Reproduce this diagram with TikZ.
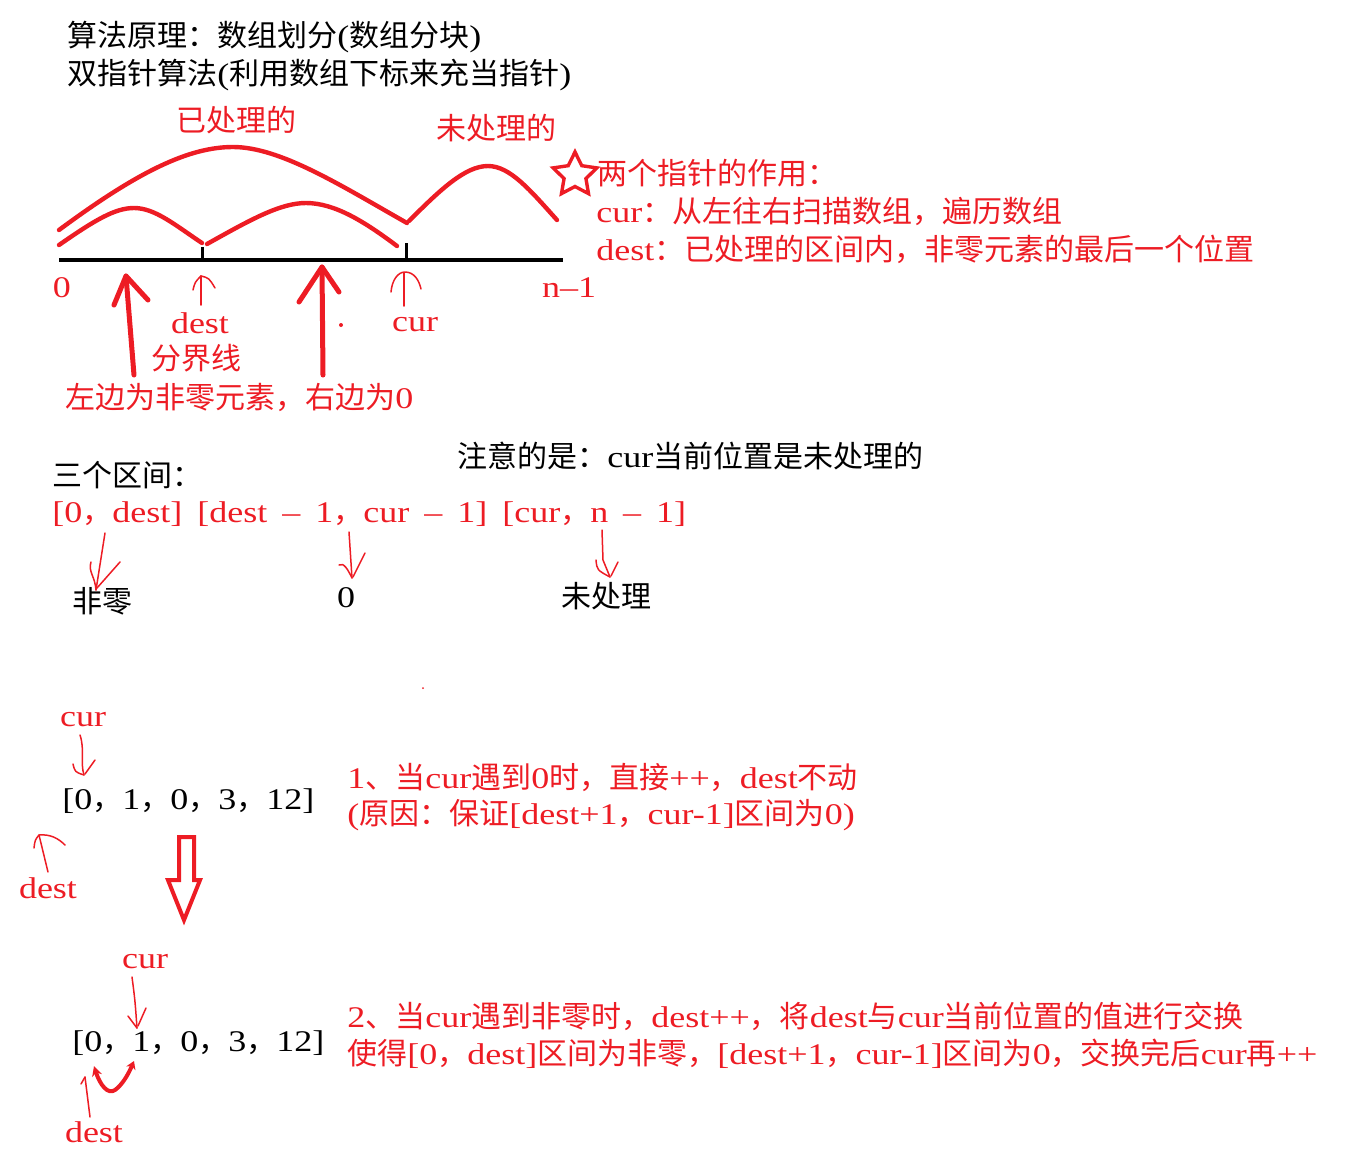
\documentclass[tikz,border=0pt]{standalone}
\usepackage{fontspec}
\setmainfont{Liberation Serif}[FakeStretch=1.2]
\newfontfamily\cjk{Noto Sans CJK SC}
\usetikzlibrary{arrows.meta,positioning,shapes.geometric}
\definecolor{inkred}{RGB}{237,28,36}

% CJK characters switch to the CJK family, Latin ones back to the main font
\XeTeXinterchartokenstate=1
\newcount\cjkcnt
\def\cjkrange#1#2{\cjkcnt=#1\relax
  \loop\XeTeXcharclass\cjkcnt=5 \ifnum\cjkcnt<#2\advance\cjkcnt by 1 \repeat}
\cjkrange{"3000}{"303F}
\cjkrange{"4E00}{"9FFF}
\cjkrange{"FF00}{"FFEF}
\XeTeXinterchartoks 0 5 = {\cjk}
\XeTeXinterchartoks 4095 5 = {\cjk}
\XeTeXinterchartoks 5 0 = {\rmfamily}
\XeTeXinterchartoks 5 4095 = {\rmfamily}
\newcommand\wsp{\hspace{7.5pt}}

\begin{document}
\begin{tikzpicture}[
  x=0.5pt,y=-0.5pt,
  font=\fontsize{15}{18}\selectfont,
  txt/.style={anchor=west,inner sep=0pt,text=black},
  redtxt/.style={txt,text=inkred},
  lbl/.style={inner sep=0pt,text=inkred},
  arcpen/.style={inkred,line width=2.2pt,line cap=round},
  pen/.style={inkred,line width=0.75pt,line cap=round},
  bigpen/.style={inkred,line width=2.5pt,line cap=round,line join=round},
]
\useasboundingbox (0,0) rectangle (1367,1169);

% ---- headings -----------------------------------------------------------
\node[txt] (title) at (67,37) {算法原理：数组划分(数组分块)};
\node[txt] (twoptr) at (67,75) {双指针算法(利用数组下标来充当指针)};

% ---- number line with processed / unprocessed parts ----------------------
\coordinate (lineL) at (59,260);
\coordinate (lineR) at (563,260);
\coordinate (tickD) at (202,260);
\coordinate (tickC) at (406,260);
\draw[black,line width=2pt] (lineL) -- (lineR);
\draw[black,line width=1.5pt] (tickD) -- ++(0,-13);
\draw[black,line width=1.5pt] (tickC) -- ++(0,-17);

\draw[arcpen] (59,230) .. controls (140,170) and (190,147) .. (233,147)
              .. controls (280,147) and (340,185) .. (407,223);
\draw[arcpen] (59,245) .. controls (95,220) and (115,208) .. (134,208)
              .. controls (155,208) and (175,225) .. (202,243);
\draw[arcpen] (207,244) .. controls (250,220) and (280,203) .. (306,203)
              .. controls (335,203) and (365,222) .. (397,246);
\draw[arcpen] (409,221) .. controls (440,190) and (465,166) .. (488,166)
              .. controls (510,166) and (530,190) .. (557,220);

\node[lbl] (done) at (236,120) {已处理的};
\node[lbl] (todo) at (496,128) {未处理的};
\node[lbl] (zero) at (62,288) {0};
\node[lbl] (last) at (569,288) {n–1};
\node[lbl] (destlbl) at (200,323) {dest};
\node[lbl] (curlbl) at (415,325) {cur};
\node[lbl] (bound) at (196,358) {分界线};
\node[redtxt] (sides) at (65,397) {左边为非零元素，右边为0};

% small pointers to dest and cur
\draw[pen] (201,305) -- (201,276);
\draw[pen] (193,290) .. controls (195,282) .. (201,276) .. controls (209,278) .. (215,288);
\draw[pen] (404,306) -- (404,273);
\draw[pen] (391,292) .. controls (392,280) and (398,272) .. (405,272)
           .. controls (414,272) and (419,280) .. (421,289);

% big arrows up to the line
\draw[bigpen] (134,375) -- (126,276);
\draw[bigpen] (114,305) -- (126,276) -- (148,300);
\draw[bigpen] (323,375) -- (322,267);
\draw[bigpen] (299,302) -- (322,267) -- (339,292);
\fill[inkred] (341,325) circle (2);

% ---- role of the two pointers -------------------------------------------
\node[star,star points=5,star point ratio=2,draw=inkred,line width=1.7pt,
      minimum size=23pt,inner sep=0pt] (mark) at (575,175) {};
\node[redtxt] (role) at (597,173) {两个指针的作用：};
\node[redtxt] (curdesc) at (596,211) {cur：从左往右扫描数组，遍历数组};
\node[redtxt] (destdesc) at (596,249) {dest：已处理的区间内，非零元素的最后一个位置};

% ---- three intervals ----------------------------------------------------
\node[txt] (note) at (457,456) {注意的是：cur当前位置是未处理的};
\node[txt] (three) at (52,475) {三个区间：};
\node[redtxt] (ranges) at (52,514)
  {[0，dest]\wsp[dest\wsp–\wsp1，cur\wsp–\wsp1]\wsp[cur，n\wsp–\wsp1]};
\node[txt,anchor=center] (nonzero) at (102,601) {非零};
\node[txt,anchor=center] (zeros) at (346,598) {0};
\node[txt,anchor=center] (unproc) at (606,596) {未处理};

\draw[pen] (105,533) -- (96,590);
\draw[pen] (91,562) .. controls (88,572) and (95,576) .. (96,590);
\draw[pen] (120,562) -- (97,588);
\draw[pen] (349,532) -- (352,578);
\draw[pen] (339,565) .. controls (344,562) and (348,570) .. (352,578);
\draw[pen] (365,553) -- (353,577);
\draw[pen] (602,530) -- (603,560) -- (610,577);
\draw[pen] (596,560) .. controls (597,570) .. (610,577);
\draw[pen] (618,562) -- (611,576);
\fill[inkred] (423,688) circle (1);

% ---- step 1: cur meets 0 ------------------------------------------------
\node[lbl] (cura) at (83,720) {cur};
\node[txt] (arra) at (62,801) {[0，1，0，3，12]};
\node[lbl] (desta) at (48,888) {dest};
\draw[pen] (80,735) .. controls (85,750) and (80,762) .. (84,775);
\draw[pen] (73,764) .. controls (75,772) .. (84,775);
\draw[pen] (95,760) -- (85,774);
\draw[pen] (48,872) -- (39,835);
\draw[pen] (34,848) .. controls (35,840) .. (39,835) .. controls (50,834) and (58,838) .. (65,845);
\node[redtxt] (step1a) at (347,777) {1、当cur遇到0时，直接++，dest不动};
\node[redtxt] (step1b) at (347,815) {(原因：保证[dest+1，cur-1]区间为0)};

% hollow arrow to the next state
\draw[inkred,line width=2pt,line join=miter]
  (179,837) -- (194,837) -- (194,880) -- (200,880) -- (184,920)
  -- (168,880) -- (179,880) -- cycle;

% ---- step 2: cur meets a non-zero ---------------------------------------
\node[lbl] (curb) at (145,962) {cur};
\node[txt] (arrb) at (72,1043) {[0，1，0，3，12]};
\node[lbl] (destb) at (94,1132) {dest};
\draw[pen] (132,977) .. controls (135,1000) .. (137,1028);
\draw[pen] (128,1016) -- (137,1028);
\draw[pen] (146,1008) -- (138,1026);
\draw[pen] (90,1117) -- (85,1077);
\draw[pen] (81,1084) -- (85,1077);
\draw[inkred,line width=2pt,line cap=round,
      {Stealth[length=5pt,width=5pt]}-{Stealth[length=4pt,width=5pt]}]
  (94,1066) .. controls (100,1085) and (108,1095) .. (115,1090)
  .. controls (122,1085) and (128,1075) .. (134,1061);
\node[redtxt] (step2a) at (347,1016) {2、当cur遇到非零时，dest++，将dest与cur当前位置的值进行交换};
\node[redtxt] (step2b) at (347,1054) {使得[0，dest]区间为非零，[dest+1，cur-1]区间为0，交换完后cur再++};

\end{tikzpicture}
\end{document}
